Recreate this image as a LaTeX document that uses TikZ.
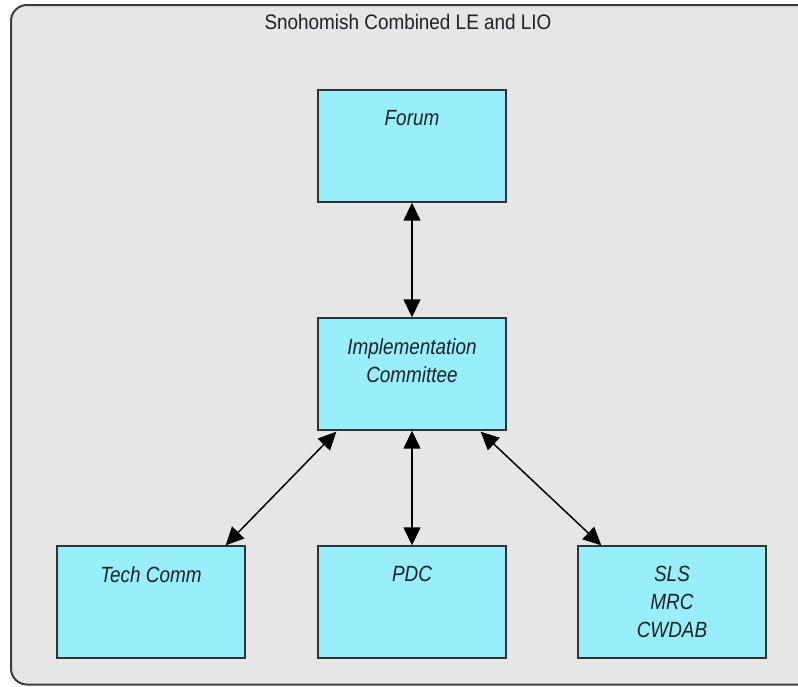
\documentclass[tikz,border=0pt]{standalone}
\usepackage{fontspec}
\setmainfont{Liberation Sans}[FakeStretch=0.9]
\newfontfamily\unitfont{Liberation Sans}[FakeStretch=0.86]
\usetikzlibrary{arrows.meta,calc}

\definecolor{panelfill}{HTML}{E6E6E6}
\definecolor{panelline}{HTML}{3C3C3C}
\definecolor{boxfill}{HTML}{99EEFB}
\definecolor{boxline}{HTML}{2E3438}
\definecolor{inktext}{HTML}{1C2228}

\tikzset{
  unitbox/.style={draw=boxline, line width=1.4pt, fill=boxfill,
    minimum width=188pt, minimum height=112pt, inner sep=0pt},
  unitlabel/.style={anchor=north, align=center, inner sep=0pt,
    text=inktext, font=\unitfont\fontsize{22}{28}\selectfont\itshape},
  link/.style={line width=1.5pt,
    {Triangle[length=18pt,width=17pt]}-{Triangle[length=18pt,width=17pt]}}
}

\begin{document}
\begin{tikzpicture}[x=1pt,y=-1pt]
  \useasboundingbox (0,0) rectangle (798,686);

  % outer panel, running off the right edge
  \begin{scope}
    \clip (0,0) rectangle (798,686);
    \draw[panelline, line width=2pt, fill=panelfill, rounded corners=16pt]
      (11,5) rectangle (830,684.5);
  \end{scope}
  \node[font=\fontsize{21}{24}\selectfont, text=inktext] (title) at (408,22)
    {Snohomish Combined LE and LIO};

  % units
  \node[unitbox] (forum) at (412,146) {};
  \node[unitbox] (impl)  at (412,374) {};
  \node[unitbox] (tech)  at (151,602) {};
  \node[unitbox] (pdc)   at (412,602) {};
  \node[unitbox] (sls)   at (672,602) {};

  \node[unitlabel] (forumtxt) at ($(forum.north)+(0,21)$) {Forum};
  \node[unitlabel] (impltxt)  at ($(impl.north)+(0,21)$) {Implementation\\Committee};
  \node[unitlabel] (techtxt)  at ($(tech.north)+(0,21)$) {Tech Comm};
  \node[unitlabel] (pdctxt)   at ($(pdc.north)+(0,21)$) {PDC};
  \node[unitlabel] (slstxt)   at ($(sls.north)+(0,21)$) {SLS\\MRC\\CWDAB};

  % two-way links
  \draw[link] (forum.south) -- (impl.north);
  \draw[link] (impl.south) -- (pdc.north);
  \draw[link] ($(impl.south west)+(19,1)$) -- ($(tech.north east)+(-20,0)$);
  \draw[link] ($(impl.south east)+(-26,1)$) -- ($(sls.north west)+(24,0)$);
\end{tikzpicture}
\end{document}
